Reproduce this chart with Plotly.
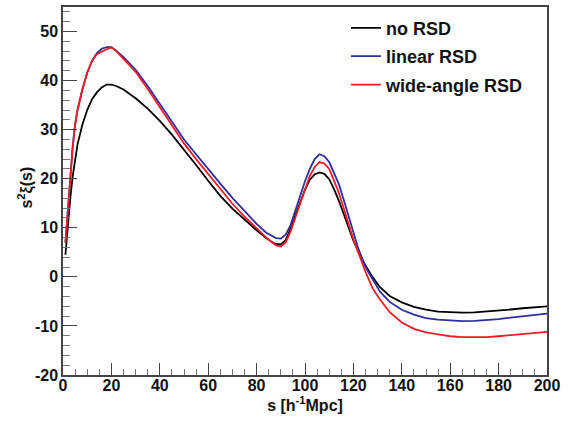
import plotly.graph_objects as go

s = [1, 2, 3, 4, 5, 6, 8, 10, 12, 14, 16, 18, 20, 22, 25, 30, 35, 40, 45, 50,
     55, 60, 65, 70, 75, 80, 84, 86, 88, 90, 92, 94, 96, 98, 100, 102, 104, 106,
     108, 110, 112, 114, 116, 118, 120, 122, 125, 128, 131, 135, 140, 145, 150,
     155, 160, 165, 170, 175, 180, 185, 190, 195, 200]

no_rsd = [4.5, 11, 16, 20.5, 24, 27, 31, 34, 36.2, 37.6, 38.6, 39.2, 39.2, 38.9,
          38.2, 36.4, 34.3, 31.8, 29.0, 26.0, 22.8, 19.6, 16.5, 13.9, 11.6, 9.5,
          7.9, 7.2, 6.7, 6.6, 7.5, 9.8, 12.5, 15.3, 17.8, 19.8, 20.9, 21.3, 21.0,
          19.9, 17.9, 15.5, 12.7, 10.0, 7.4, 5.2, 2.3, -0.1, -2.1, -3.9, -5.2,
          -6.1, -6.7, -7.1, -7.25, -7.3, -7.25, -7.1, -6.9, -6.65, -6.4, -6.2, -6.0]

linear_rsd = [7, 14, 21, 26.5, 31, 34, 38.2, 41.6, 44.0, 45.6, 46.5, 46.8, 46.8,
              46.1, 44.8, 42.2, 38.9, 35.3, 31.5, 28.0, 25.0, 21.9, 19.0, 16.1,
              13.4, 10.8, 9.0, 8.4, 7.9, 7.8, 8.6, 10.5, 13.5, 16.4, 19.5, 22.0,
              24.0, 25.0, 24.6, 23.4, 21.2, 18.9, 15.7, 12.5, 9.5, 5.8, 2.0, -0.6,
              -3.0, -5.1, -6.7, -7.7, -8.4, -8.7, -8.9, -9.0, -8.95, -8.8, -8.6,
              -8.3, -8.0, -7.75, -7.5]

wide_angle_rsd = [7, 14, 21, 26.5, 31, 34, 38.2, 41.6, 44.0, 45.4, 45.9, 46.3,
                  46.8, 46.0, 44.5, 41.8, 38.3, 34.6, 30.8, 27.2, 24.0, 20.9,
                  17.8, 14.9, 12.3, 9.8, 8.0, 7.2, 6.4, 6.2, 7.0, 9.2, 12.0, 15.2,
                  18.0, 20.6, 22.4, 23.4, 23.1, 22.0, 19.6, 17.1, 14.0, 10.8, 7.6,
                  5.0, 1.0, -2.4, -4.6, -7.2, -9.3, -10.6, -11.3, -11.7, -12.1,
                  -12.3, -12.35, -12.3, -12.1, -11.9, -11.7, -11.45, -11.2]

y_tick_vals = [-20, -10, 0, 10, 20, 30, 40, 50]
y_tick_text = ["-20", "-10", "0", "10", "20", "30", "40", "50"]

series = [
    ("no RSD", no_rsd, "#000000"),
    ("linear RSD", linear_rsd, "#2e2e9c"),
    ("wide-angle RSD", wide_angle_rsd, "#ee1c24"),
]

FONT = "Liberation Sans, Arial, sans-serif"
TXT = "#111111"

fig = go.Figure()
for i, (name, ys, col) in enumerate(series):
    fig.add_trace(go.Scatter(x=s, y=ys, mode="lines", name=name,
                             legendgroup=name,
                             line=dict(color=col, width=1.8)))

axis_common = dict(
    showline=True, linecolor="#444444", linewidth=1.5, mirror=True,
    ticks="inside", tickcolor="#444444", tickwidth=1.3,
    showgrid=False, zeroline=False,
    tickfont=dict(family=FONT, size=16, color=TXT, weight="bold"),
)

fig.update_xaxes(range=[0, 200], dtick=20, tick0=0, ticklen=12,
                 ticklabelstandoff=-5,
                 minor=dict(ticks="inside", dtick=5, ticklen=6,
                            tickcolor="#777777", tickwidth=1.2),
                 title=dict(text="s [h<sup>-1</sup>Mpc]", standoff=0,
                            font=dict(family=FONT, size=16, color=TXT, weight="bold")),
                 **axis_common)
fig.update_yaxes(range=[-20, 55], tickmode="array", tickvals=y_tick_vals,
                 ticktext=y_tick_text, ticklen=14,
                 minor=dict(ticks="inside", dtick=2, tick0=0, ticklen=7,
                            tickcolor="#777777", tickwidth=1.2),
                 **axis_common)

fig.add_annotation(text="s<sup>2</sup>ξ(s)", xref="paper", yref="paper",
                   x=-0.078, y=0.51, xanchor="center", yanchor="middle",
                   textangle=-90, showarrow=False,
                   font=dict(family=FONT, size=16, color=TXT, weight="bold"))

fig.update_layout(
    width=575, height=422,
    margin=dict(l=63, r=28, t=5, b=47),
    paper_bgcolor="white", plot_bgcolor="white",
    showlegend=True,
    legend=dict(x=0.5847, xanchor="left", y=0.993, yanchor="top",
                bgcolor="rgba(0,0,0,0)", borderwidth=0,
                font=dict(family=FONT, size=18, color=TXT, weight="bold"),
                tracegroupgap=2, traceorder="grouped"),
)

fig.write_html("out.html", config={"displayModeBar": False},
               post_script="document.body.style.margin='0';document.body.style.padding='0';")
